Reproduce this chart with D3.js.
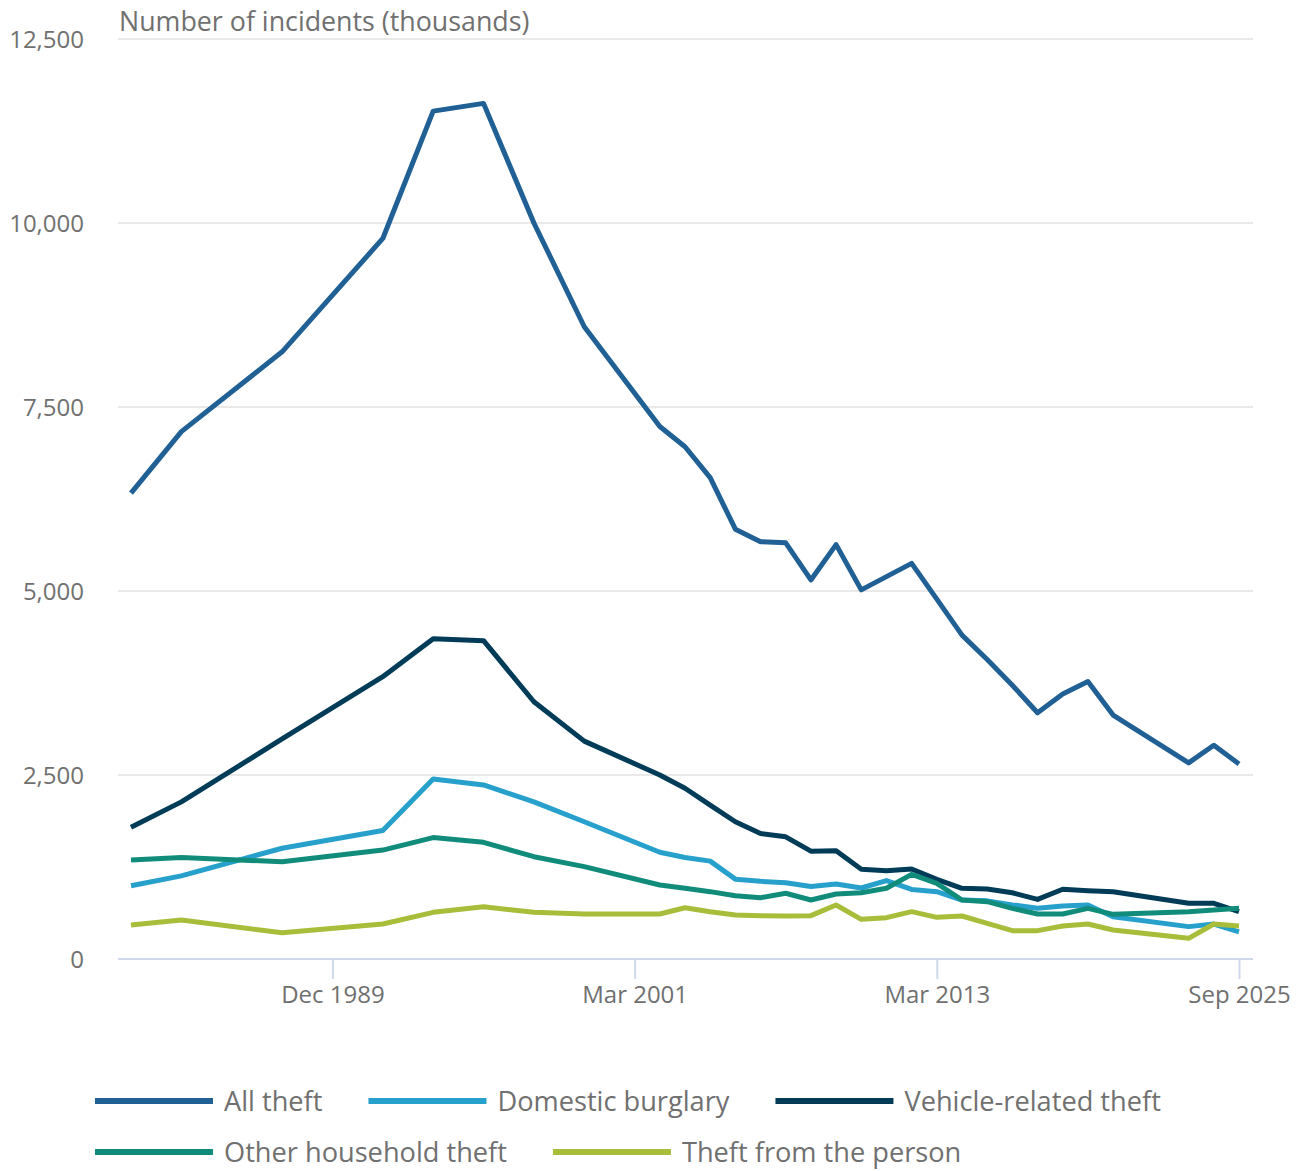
<!DOCTYPE html>
<html>
<head>
<meta charset="utf-8">
<script src="https://cdn.jsdelivr.net/npm/d3@7"></script>
<style>
  html, body { margin: 0; padding: 0; background: #ffffff; }
  svg { display: block; }
  text { font-family: "Open Sans", "Noto Sans", sans-serif; fill: #707070; }
</style>
</head>
<body>
<svg id="chart" width="1307" height="1171"></svg>
<script>
// ---- Data (thousands of incidents) ----
const categories = [
  "Dec 1981","Dec 1982","Dec 1983","Dec 1984","Dec 1985","Dec 1986","Dec 1987","Dec 1988",
  "Dec 1989","Dec 1990","Dec 1991","Dec 1992","Dec 1993","Dec 1994","Dec 1995","Dec 1996",
  "Dec 1997","Dec 1998","Dec 1999","Dec 2000","Mar 2001","Mar 2002","Mar 2003","Mar 2004",
  "Mar 2005","Mar 2006","Mar 2007","Mar 2008","Mar 2009","Mar 2010","Mar 2011","Mar 2012",
  "Mar 2013","Mar 2014","Mar 2015","Mar 2016","Mar 2017","Mar 2018","Mar 2019","Mar 2020",
  "Mar 2022","Mar 2023","Mar 2024","Mar 2025","Sep 2025"
];
const tickLabels = ["Dec 1989", "Mar 2001", "Mar 2013", "Sep 2025"];
const yTicks = [0, 2500, 5000, 7500, 10000, 12500];

const allTheft = [
  6330, null, 7165, null, null, null, 8250, null, null, null, 9790, null, 11520, null, 11625, null,
  10000, null, 8590, null, null, 7235, 6960, 6540, 5840, 5670, 5655, 5150, 5630, 5015, 5195, 5375,
  4890, 4400, 4070, 3720, 3345, 3600, 3770, 3315, null, null, 2665, 2905, 2650
];
const domesticBurglary = [
  995, null, 1130, null, null, null, 1505, null, null, null, 1745, null, 2445, null, 2365, null,
  2135, null, 1865, null, null, 1450, 1380, 1330, 1085, 1055, 1035, 985, 1020, 965, 1065, 945,
  915, 800, 790, 735, 690, 720, 735, 575, null, null, 440, 475, 370
];
const vehicleTheft = [
  1790, null, 2135, null, null, null, 2990, null, null, null, 3835, null, 4350, null, 4325, null,
  3495, null, 2960, null, null, 2500, 2320, 2090, 1865, 1705, 1660, 1465, 1470, 1220, 1198, 1223,
  1083, 960, 950, 900, 810, 947, 928, 915, null, null, 757, 757, 643
];
const otherHousehold = [
  1345, null, 1380, null, null, null, 1320, null, null, null, 1480, null, 1650, null, 1585, null,
  1390, null, 1255, null, null, 1005, 960, 915, 860, 833, 893, 802, 883, 901, 961, 1150,
  1028, 802, 779, 688, 611, 611, 688, 607, null, null, 643, 666, 688
];
const theftFromPerson = [
  462, null, 530, null, null, null, 357, null, null, null, 476, null, 634, null, 711, null,
  634, null, 611, null, null, 611, 697, 643, 598, 589, 584, 589, 734, 539, 562, 643,
  566, 584, 485, 385, 385, 448, 476, 394, null, null, 281, 476, 448
];

const seriesNames = ["All theft", "Domestic burglary", "Vehicle-related theft", "Other household theft", "Theft from the person"];
const seriesValues = [allTheft, domesticBurglary, vehicleTheft, otherHousehold, theftFromPerson];
const seriesColors = ["#206095", "#27a0cc", "#003c57", "#118c7b", "#a8bd3a"];

// ---- Layout ----
const svg = d3.select("#chart");
const plotLeft = 118, plotRight = 1253, plotTop = 39, plotBottom = 959;

const x = d3.scalePoint().domain(categories).range([131, 1239]);
const y = d3.scaleLinear().domain([0, 12500]).range([plotBottom, plotTop]);

// Gridlines
svg.append("g").selectAll("line")
  .data(yTicks.filter(d => d > 0))
  .join("line")
  .attr("x1", plotLeft).attr("x2", plotRight)
  .attr("y1", d => y(d)).attr("y2", d => y(d))
  .attr("stroke", "#e2e2e2").attr("stroke-width", 1.5);

// Y axis labels
const yAxis = svg.append("g")
  .attr("transform", `translate(84,0)`)
  .call(d3.axisLeft(y).tickValues(yTicks).tickSize(0).tickPadding(0).tickFormat(d3.format(",")));
yAxis.select(".domain").remove();
yAxis.selectAll("text")
  .style("font-size", "24px")
  .attr("fill", "#707070")
  .attr("dy", "0.35em");

// X axis
svg.append("line")
  .attr("x1", plotLeft).attr("x2", plotRight)
  .attr("y1", y(0)).attr("y2", y(0))
  .attr("stroke", "#cfd9eb").attr("stroke-width", 2);

const xAxis = svg.append("g")
  .attr("transform", `translate(0,${y(0)})`)
  .call(d3.axisBottom(x).tickValues(tickLabels).tickSize(20).tickPadding(6));
xAxis.select(".domain").remove();
xAxis.selectAll(".tick line").attr("stroke", "#cfd9eb").attr("stroke-width", 2);
xAxis.selectAll("text")
  .style("font-size", "24px")
  .attr("fill", "#707070")
  .attr("dy", "0.75em");

// Title
svg.append("text")
  .attr("x", 119).attr("y", 31)
  .style("font-size", "26.8px")
  .text("Number of incidents (thousands)");

// Lines
const line = d3.line()
  .x(d => x(d.cat))
  .y(d => y(d.value));

seriesValues.forEach((vals, i) => {
  const pts = categories.map((c, j) => ({ cat: c, value: vals[j] })).filter(d => d.value !== null);
  svg.append("path")
    .datum(pts)
    .attr("fill", "none")
    .attr("stroke", seriesColors[i])
    .attr("stroke-width", 5)
    .attr("stroke-linejoin", "round")
    .attr("d", line);
});

// Legend
const legendRows = [[0, 1, 2], [3, 4]];
const rowY = [1101, 1152];
legendRows.forEach((row, r) => {
  let cx = 95;
  row.forEach(idx => {
    const g = svg.append("g");
    g.append("line")
      .attr("x1", cx).attr("x2", cx + 118)
      .attr("y1", rowY[r]).attr("y2", rowY[r])
      .attr("stroke", seriesColors[idx]).attr("stroke-width", 6);
    const t = g.append("text")
      .attr("x", cx + 129).attr("y", rowY[r])
      .attr("dy", "0.35em")
      .style("font-size", "27.2px")
      .text(seriesNames[idx]);
    const w = t.node().getComputedTextLength();
    cx = cx + 129 + w + 46;
  });
});
</script>
</body>
</html>
